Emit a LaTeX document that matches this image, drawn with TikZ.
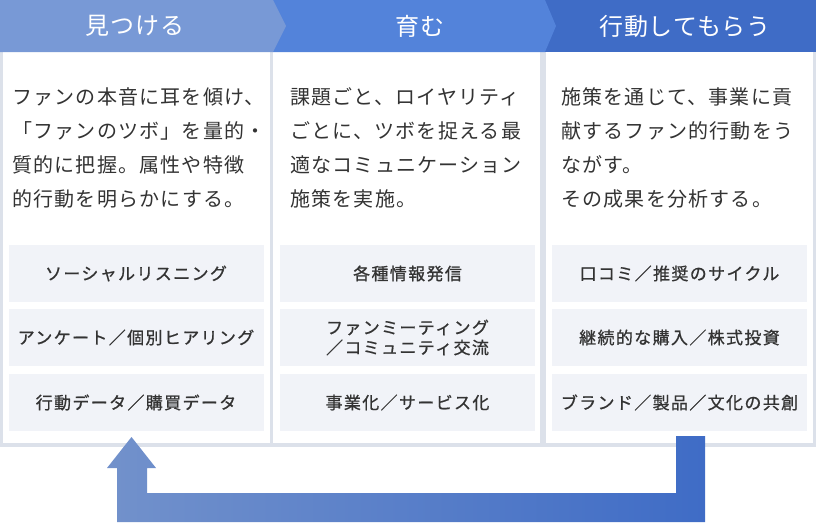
\documentclass[tikz,border=0pt]{standalone}
\usepackage{fontspec}
\newfontfamily\jp[LetterSpace=6]{Noto Sans CJK JP}
\newfontfamily\jphead[LetterSpace=4]{Noto Sans CJK JP}
\newfontfamily\jpitem[LetterSpace=8, FakeBold=0.8]{Noto Sans CJK JP}
\usetikzlibrary{positioning}

\definecolor{findblue}{HTML}{7899D6}
\definecolor{growblue}{HTML}{5383DA}
\definecolor{actblue}{HTML}{3F6CC6}
\definecolor{framegray}{HTML}{DCE1EA}
\definecolor{itemgray}{HTML}{F1F3F8}
\definecolor{textgray}{HTML}{333333}

\tikzset{
  head/.style={text=white, font=\jphead\fontsize{24}{28}\selectfont},
  panel/.style={fill=white, anchor=north west, inner sep=0pt,
    minimum width=267pt, minimum height=391pt},
  desc/.style={text=textgray, anchor=north west, inner sep=0pt, align=left,
    font=\jp\fontsize{20}{34}\selectfont},
  item/.style={fill=itemgray, text=textgray, inner sep=0pt, align=center,
    minimum width=255pt, minimum height=57pt,
    font=\jpitem\fontsize{17}{20}\selectfont}
}

\begin{document}
\begin{tikzpicture}[x=1pt,y=-1pt]
\useasboundingbox (0,0) rectangle (816,522);

% Frame and panels
\fill[framegray] (0,50) rectangle (816,447);
\node[panel] (p1) at (3,52) {};
\node[panel] (p2) at (273,52) {};
\node[panel, minimum width=267pt] (p3) at (546,52) {};

% Headers
\fill[actblue] (545,0) rectangle (816,52);
\fill[growblue] (273,0) -- (545,0) -- (556,26) -- (545,52) -- (273,52) -- cycle;
\fill[findblue] (0,0) -- (273,0) -- (286,26) -- (273,52) -- (0,52) -- cycle;
\node[head] (h1) at (135,26) {見つける};
\node[head] (h2) at (420,26) {育む};
\node[head] (h3) at (685,26) {行動してもらう};

% Descriptions
\node[desc] (d1) at (12,87) {ファンの本音に耳を傾け、\\「ファンのツボ」を量的・\\質的に把握。属性や特徴\\的行動を明らかにする。};
\node[desc] (d2) at (290,87) {課題ごと、ロイヤリティ\\ごとに、ツボを捉える最\\適なコミュニケーション\\施策を実施。};
\node[desc] (d3) at (561,87) {施策を通じて、事業に貢\\献するファン的行動をう\\ながす。\\その成果を分析する。};

% Items
\node[item] (f1) at (136,273.5) {ソーシャルリスニング};
\node[item] (f2) at (136,337.5) {アンケート／個別ヒアリング};
\node[item] (f3) at (136,402.5) {行動データ／購買データ};
\node[item] (g1) at (407.5,273.5) {各種情報発信};
\node[item] (g2) at (407.5,337.5) {ファンミーティング\\／コミュニティ交流};
\node[item] (g3) at (407.5,402.5) {事業化／サービス化};
\node[item] (a1) at (679.5,273.5) {口コミ／推奨のサイクル};
\node[item] (a2) at (679.5,337.5) {継続的な購入／株式投資};
\node[item] (a3) at (679.5,402.5) {ブランド／製品／文化の共創};

% Loop arrow
\coordinate (loopout) at (690.5,436);
\coordinate (loopin) at (131.5,437);
\shade[left color=findblue!95!black, right color=actblue]
  (676,436) -- (705,436) -- (705,522) -- (117,522) -- (117,468)
  -- (107,468) -- (loopin) -- (156,468) -- (147,468) -- (147,493)
  -- (676,493) -- cycle;

\end{tikzpicture}
\end{document}
